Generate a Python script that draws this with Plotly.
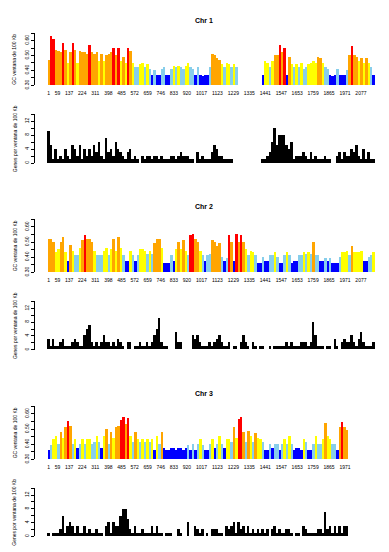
import plotly.graph_objects as go

W, H = 389, 552
STEP = 16  # windows of 100 Kb aggregated per drawn bar

# ---------------- data ----------------
chr1_gc = [0.47,0.63,0.61,0.535,0.53,0.52,0.58,0.535,0.45,0.52,0.58,0.535,0.45,0.53,0.52,0.52,0.51,0.57,0.52,0.51,
           0.52,0.46,0.51,0.46,0.50,0.51,0.52,0.55,0.50,0.55,0.46,0.49,0.45,0.55,0.53,0.45,0.42,0.42,0.44,0.45,
           0.42,0.44,0.41,0.37,0.40,0.37,0.37,0.41,0.42,0.37,0.37,0.41,0.43,0.42,0.43,0.42,0.41,0.43,0.45,0.42,
           0.41,0.37,0.42,0.37,0.36,0.37,0.37,0.42,0.51,0.50,0.48,0.47,0.44,0.42,0.45,0.44,0.42,0.44,0.42,
           None,None,None,None,None,None,None,None,None,None,
           0.37,0.46,0.45,0.42,0.46,0.50,0.50,0.57,0.52,0.55,0.37,0.49,0.44,0.42,0.44,0.42,0.45,0.41,0.42,0.44,
           0.45,0.46,0.45,0.49,0.48,0.45,0.42,0.41,0.37,0.36,0.37,0.41,0.37,0.37,0.37,0.40,0.50,0.56,0.50,0.49,
           0.46,0.48,0.45,0.48,0.45,0.42,0.37]
chr1_genes = [9,5,1,4,1,2,1,4,2,1,5,4,2,5,1,4,2,4,2,5,
              3,6,2,1,7,3,4,2,6,4,3,2,1,3,4,1,2,1,0,2,
              1,2,2,1,2,2,1,2,1,1,1,2,2,1,2,3,2,2,2,1,
              1,0,3,1,2,1,1,1,3,5,4,2,2,1,1,1,1,0,0,
              None,None,None,None,None,None,None,None,None,None,
              1,1,2,3,6,10,5,8,8,8,5,4,6,1,2,2,2,3,2,1,
              3,1,2,1,1,1,2,1,1,0,0,2,3,1,3,2,2,4,3,5,
              2,1,4,1,3,1,1]

chr2_gc = [0.52,0.52,0.50,0.43,0.45,0.50,0.53,0.43,0.37,0.48,0.44,0.41,0.41,0.46,0.51,0.545,0.52,0.52,0.50,0.44,
           0.41,0.41,0.41,0.44,0.46,0.41,0.45,0.52,0.44,0.53,0.46,0.41,0.37,0.37,0.44,0.41,0.37,0.41,0.45,0.45,
           0.44,0.42,0.44,0.42,0.49,0.52,0.52,0.46,0.36,0.36,0.36,0.41,0.37,0.45,0.50,0.45,0.51,0.44,0.41,0.545,
           0.55,0.52,0.50,0.44,0.41,0.37,0.41,0.42,0.51,0.50,0.47,0.49,0.40,0.37,0.39,0.545,0.50,0.37,0.55,0.50,
           0.545,0.50,0.45,0.41,0.44,0.43,0.41,0.36,0.36,0.40,0.37,0.37,0.41,0.41,0.43,0.40,0.36,0.36,0.41,0.43,
           0.41,0.36,0.37,0.37,0.41,0.41,0.43,0.42,0.43,0.42,0.50,0.41,0.41,0.37,0.37,0.39,0.37,0.39,0.36,0.36,
           0.36,0.40,0.43,0.43,0.44,0.41,0.47,0.43,0.43,0.43,0.44,0.37,0.37,0.40,0.41,0.43]
chr2_genes = [3,1,3,1,1,2,3,1,1,1,2,3,2,1,1,4,6,7,2,1,
              2,1,2,4,2,2,1,2,1,3,2,1,0,2,2,0,1,1,2,1,
              1,2,1,2,4,6,9,2,1,1,0,0,0,5,2,2,0,0,0,0,
              4,3,4,2,1,1,1,2,1,2,3,4,2,1,1,2,0,1,1,0,
              2,4,2,1,0,2,1,0,1,1,0,0,1,0,1,1,1,1,1,2,
              1,2,1,1,1,2,2,2,1,2,8,4,1,1,1,0,1,1,0,3,
              1,0,2,3,2,2,4,2,1,3,5,2,1,1,1,2]

chr3_gc = [0.36,0.395,0.43,0.45,0.40,0.48,0.44,0.51,0.55,0.52,0.40,0.43,0.37,0.40,0.43,0.40,0.43,0.43,0.40,0.41,
           0.45,0.41,0.37,0.45,0.50,0.40,0.48,0.44,0.51,0.52,0.56,0.58,0.53,0.57,0.45,0.41,0.48,0.43,0.41,0.43,
           0.41,0.43,0.41,0.43,0.36,0.45,0.40,0.48,0.37,0.36,0.36,0.37,0.37,0.36,0.37,0.37,0.36,0.37,0.39,0.36,
           0.40,0.36,0.40,0.43,0.39,0.36,0.36,0.40,0.43,0.37,0.40,0.45,0.40,0.37,0.43,0.43,0.41,0.51,0.44,0.565,
           0.575,0.48,0.41,0.485,0.45,0.41,0.47,0.44,0.43,0.41,0.36,0.36,0.40,0.37,0.40,0.40,0.36,0.40,0.43,0.40,
           0.45,0.40,0.36,0.37,0.37,0.36,0.43,0.41,0.36,0.36,0.40,0.45,0.40,0.40,0.43,0.535,0.45,0.43,0.40,0.40,
           0.36,0.51,0.545,0.51,0.49]
chr3_genes = [1,0,1,1,1,2,6,1,3,4,3,1,3,1,1,3,1,2,1,1,
              2,1,1,0,3,4,1,4,3,3,6,8,8,5,2,1,3,1,1,2,
              1,1,1,3,1,3,1,1,0,1,1,1,0,0,2,1,0,0,4,0,
              0,3,2,1,2,0,1,0,2,2,2,1,1,0,3,2,3,4,1,4,
              2,3,1,3,1,2,1,2,1,2,1,2,0,2,3,1,2,1,1,2,
              2,1,0,1,1,0,3,2,1,1,1,1,2,2,1,7,2,3,1,3,
              1,3,1,3,3]

x_labels_chr12 = [1,59,137,224,311,398,485,572,659,746,833,920,1017,1123,1229,1335,1441,1547,1653,1759,1865,1971,2077]
x_labels_chr3 = [1,59,137,224,311,398,485,572,659,746,833,920,1017,1123,1229,1335,1441,1547,1653,1759,1865,1971]

gc_ticks = [0.30,0.35,0.40,0.45,0.50,0.55,0.60,0.65]
gc_ticktext = ["0.30","","0.40","","0.50","","0.60",""]
gene_ticks = [0,2,4,6,8,10,12,14]
gene_ticktext = ["0","","4","","8","","12",""]

chromosomes = ["Chr 1","Chr 2","Chr 3"]

# ---------------- style ----------------
FONT = "Liberation Sans"
PX_PER_WIN = 0.1504
X0_PX = 48.7   # pixel of window 1

def px2w(px):
    return 1 + (px - X0_PX) / PX_PER_WIN

def gc_color(v):
    if v is None:
        return "white"
    if v < 0.385:
        return "#0000FF"
    if v < 0.425:
        return "#87CEEB"
    if v < 0.465:
        return "#FFFF00"
    if v < 0.54:
        return "#FFA500"
    return "#FF0000"

def ydom(top_px, bot_px):
    return [1 - bot_px / H, 1 - top_px / H]

gc_panels = [(33.3, 86.0), (221.0, 274.3), (409.3, 462.7)]
gene_panels = [(115.0, 164.3), (303.7, 352.3), (491.7, 540.3)]
title_y = [20.7, 208.5, 396.7]

data_gc = [chr1_gc, chr2_gc, chr3_gc]
data_genes = [chr1_genes, chr2_genes, chr3_genes]
xlabels = [x_labels_chr12, x_labels_chr12, x_labels_chr3]

fig = go.Figure()
layout = dict(width=W, height=H, margin=dict(l=0, r=0, t=0, b=0),
              paper_bgcolor="white", plot_bgcolor="white", showlegend=False,
              bargap=0, font=dict(family=FONT, color="black"))
annotations = []
xr = [px2w(35), px2w(376)]
xdom = [35 / W, 376 / W]

for c in range(3):
    gc = data_gc[c]
    genes = data_genes[c]
    xs = [1 + STEP * i for i in range(len(gc))]
    xg = [1 + STEP * i for i in range(len(genes))]
    a_gc = 2 * c + 1
    a_ge = 2 * c + 2
    fig.add_trace(go.Bar(x=xs, y=[(v - 0.30) if v is not None else None for v in gc],
                         base=0.30, width=STEP,
                         marker=dict(color=[gc_color(v) for v in gc], line=dict(width=0)),
                         xaxis=f"x{a_gc}", yaxis=f"y{a_gc}"))
    fig.add_trace(go.Bar(x=xg, y=genes, width=STEP * 0.8,
                         marker=dict(color="black", line=dict(width=0)),
                         xaxis=f"x{a_ge}", yaxis=f"y{a_ge}"))
    layout[f"xaxis{a_gc}"] = dict(domain=xdom, range=xr, anchor=f"y{a_gc}",
                                  showline=False, showgrid=False, zeroline=False,
                                  tickmode="array", tickvals=xlabels[c],
                                  ticktext=[str(v) for v in xlabels[c]],
                                  ticks="", tickangle=0, ticklabelstandoff=4,
                                  tickfont=dict(size=5, family=FONT, color="black"))
    layout[f"yaxis{a_gc}"] = dict(domain=ydom(*gc_panels[c]), range=[0.30, 0.65], anchor=f"x{a_gc}",
                                  showline=True, linecolor="black", linewidth=1,
                                  ticks="outside", ticklen=3, tickwidth=1, tickcolor="black",
                                  tickmode="array", tickvals=gc_ticks, ticktext=gc_ticktext,
                                  tickangle=-90, tickfont=dict(size=5, family=FONT, color="black"),
                                  showgrid=False, zeroline=False)
    layout[f"xaxis{a_ge}"] = dict(domain=xdom, range=xr, anchor=f"y{a_ge}",
                                  showline=False, showgrid=False, zeroline=False,
                                  showticklabels=False, ticks="")
    layout[f"yaxis{a_ge}"] = dict(domain=ydom(*gene_panels[c]), range=[0, 14], anchor=f"x{a_ge}",
                                  showline=True, linecolor="black", linewidth=1,
                                  ticks="outside", ticklen=3, tickwidth=1, tickcolor="black",
                                  tickmode="array", tickvals=gene_ticks, ticktext=gene_ticktext,
                                  tickangle=-90, tickfont=dict(size=5, family=FONT, color="black"),
                                  showgrid=False, zeroline=False)
    annotations.append(dict(text=f"<b>{chromosomes[c]}</b>", x=204 / W, y=1 - title_y[c] / H,
                            xref="paper", yref="paper", showarrow=False,
                            font=dict(size=7, family=FONT, color="black"),
                            xanchor="center", yanchor="middle"))
    gt, gb = gc_panels[c]
    annotations.append(dict(text="GC ventana de 100 Kb", x=14.5 / W, y=1 - (gt + gb) / 2 / H,
                            xref="paper", yref="paper", showarrow=False, textangle=-90,
                            font=dict(size=5, family=FONT, color="black"),
                            xanchor="center", yanchor="middle"))
    nt, nb = gene_panels[c]
    annotations.append(dict(text="Genes por ventana de 100 Kb", x=14.5 / W, y=1 - (nt + nb) / 2 / H,
                            xref="paper", yref="paper", showarrow=False, textangle=-90,
                            font=dict(size=5, family=FONT, color="black"),
                            xanchor="center", yanchor="middle"))

layout["annotations"] = annotations
fig.update_layout(**layout)
fig.write_html("out.html", config={"displayModeBar": False},
               post_script="document.body.style.margin='0px';document.body.style.padding='0px';")
